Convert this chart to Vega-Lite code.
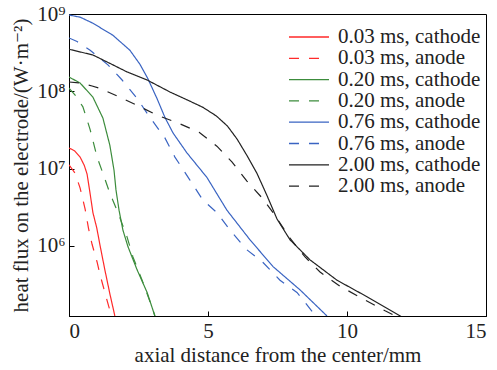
{
  "$schema": "https://vega.github.io/schema/vega-lite/v6.json",
  "width": 417,
  "height": 302,
  "autosize": {"type": "none"},
  "padding": {"left": 69, "top": 14, "right": 11, "bottom": 54},
  "background": "white",
  "data": {"values": [
    {"s": "0.03 ms, cathode", "x": 0, "y": 1.85e7},
    {"s": "0.03 ms, cathode", "x": 0.2, "y": 1.7e7},
    {"s": "0.03 ms, cathode", "x": 0.4, "y": 1.41e7},
    {"s": "0.03 ms, cathode", "x": 0.55, "y": 1.1e7},
    {"s": "0.03 ms, cathode", "x": 0.65, "y": 8.5e6},
    {"s": "0.03 ms, cathode", "x": 0.75, "y": 5.0e6},
    {"s": "0.03 ms, cathode", "x": 0.86, "y": 2.7e6},
    {"s": "0.03 ms, cathode", "x": 1.0, "y": 1.7e6},
    {"s": "0.03 ms, cathode", "x": 1.12, "y": 1.0e6},
    {"s": "0.03 ms, cathode", "x": 1.29, "y": 4.9e5},
    {"s": "0.03 ms, cathode", "x": 1.47, "y": 2.4e5},
    {"s": "0.03 ms, cathode", "x": 1.65, "y": 1.24e5},

    {"s": "0.03 ms, anode", "x": 0, "y": 1.12e7},
    {"s": "0.03 ms, anode", "x": 0.22, "y": 8.7e6},
    {"s": "0.03 ms, anode", "x": 0.4, "y": 5.6e6},
    {"s": "0.03 ms, anode", "x": 0.58, "y": 3.0e6},
    {"s": "0.03 ms, anode", "x": 0.7, "y": 1.7e6},
    {"s": "0.03 ms, anode", "x": 0.83, "y": 1.05e6},
    {"s": "0.03 ms, anode", "x": 1.01, "y": 6.2e5},
    {"s": "0.03 ms, anode", "x": 1.12, "y": 4.2e5},
    {"s": "0.03 ms, anode", "x": 1.29, "y": 2.5e5},
    {"s": "0.03 ms, anode", "x": 1.44, "y": 1.6e5},
    {"s": "0.03 ms, anode", "x": 1.53, "y": 1.24e5},

    {"s": "0.20 ms, cathode", "x": 0, "y": 1.53e8},
    {"s": "0.20 ms, cathode", "x": 0.4, "y": 1.28e8},
    {"s": "0.20 ms, cathode", "x": 0.86, "y": 8.4e7},
    {"s": "0.20 ms, cathode", "x": 1.22, "y": 4.5e7},
    {"s": "0.20 ms, cathode", "x": 1.47, "y": 2.0e7},
    {"s": "0.20 ms, cathode", "x": 1.62, "y": 9.5e6},
    {"s": "0.20 ms, cathode", "x": 1.69, "y": 5.3e6},
    {"s": "0.20 ms, cathode", "x": 1.8, "y": 2.9e6},
    {"s": "0.20 ms, cathode", "x": 1.94, "y": 1.6e6},
    {"s": "0.20 ms, cathode", "x": 2.12, "y": 9.8e5},
    {"s": "0.20 ms, cathode", "x": 2.45, "y": 4.9e5},
    {"s": "0.20 ms, cathode", "x": 2.81, "y": 2.5e5},
    {"s": "0.20 ms, cathode", "x": 3.09, "y": 1.24e5},

    {"s": "0.20 ms, anode", "x": 0, "y": 1.1e8},
    {"s": "0.20 ms, anode", "x": 0.22, "y": 8.95e7},
    {"s": "0.20 ms, anode", "x": 0.5, "y": 6.3e7},
    {"s": "0.20 ms, anode", "x": 0.76, "y": 3.2e7},
    {"s": "0.20 ms, anode", "x": 1.01, "y": 1.41e7},
    {"s": "0.20 ms, anode", "x": 1.22, "y": 8.7e6},
    {"s": "0.20 ms, anode", "x": 1.47, "y": 4.8e6},
    {"s": "0.20 ms, anode", "x": 1.76, "y": 2.7e6},
    {"s": "0.20 ms, anode", "x": 2.09, "y": 1.3e6},
    {"s": "0.20 ms, anode", "x": 2.3, "y": 7.2e5},
    {"s": "0.20 ms, anode", "x": 2.63, "y": 3.6e5},
    {"s": "0.20 ms, anode", "x": 2.99, "y": 1.6e5},
    {"s": "0.20 ms, anode", "x": 3.09, "y": 1.24e5},

    {"s": "0.76 ms, cathode", "x": 0, "y": 9.7e8},
    {"s": "0.76 ms, cathode", "x": 0.4, "y": 9.1e8},
    {"s": "0.76 ms, cathode", "x": 0.86, "y": 7.6e8},
    {"s": "0.76 ms, cathode", "x": 1.58, "y": 5.3e8},
    {"s": "0.76 ms, cathode", "x": 2.19, "y": 3.4e8},
    {"s": "0.76 ms, cathode", "x": 2.55, "y": 2.24e8},
    {"s": "0.76 ms, cathode", "x": 2.84, "y": 1.45e8},
    {"s": "0.76 ms, cathode", "x": 3.17, "y": 8.0e7},
    {"s": "0.76 ms, cathode", "x": 3.45, "y": 4.6e7},
    {"s": "0.76 ms, cathode", "x": 3.74, "y": 2.9e7},
    {"s": "0.76 ms, cathode", "x": 4.24, "y": 1.6e7},
    {"s": "0.76 ms, cathode", "x": 4.96, "y": 7.7e6},
    {"s": "0.76 ms, cathode", "x": 5.68, "y": 2.9e6},
    {"s": "0.76 ms, cathode", "x": 6.51, "y": 1.2e6},
    {"s": "0.76 ms, cathode", "x": 7.34, "y": 5.4e5},
    {"s": "0.76 ms, cathode", "x": 8.31, "y": 2.7e5},
    {"s": "0.76 ms, cathode", "x": 9.28, "y": 1.24e5},

    {"s": "0.76 ms, anode", "x": 0, "y": 4.9e8},
    {"s": "0.76 ms, anode", "x": 0.29, "y": 4.4e8},
    {"s": "0.76 ms, anode", "x": 0.76, "y": 3.4e8},
    {"s": "0.76 ms, anode", "x": 1.4, "y": 2.2e8},
    {"s": "0.76 ms, anode", "x": 1.91, "y": 1.4e8},
    {"s": "0.76 ms, anode", "x": 2.45, "y": 8.1e7},
    {"s": "0.76 ms, anode", "x": 2.91, "y": 4.6e7},
    {"s": "0.76 ms, anode", "x": 3.45, "y": 2.5e7},
    {"s": "0.76 ms, anode", "x": 3.81, "y": 1.41e7},
    {"s": "0.76 ms, anode", "x": 4.35, "y": 7.1e6},
    {"s": "0.76 ms, anode", "x": 4.82, "y": 3.9e6},
    {"s": "0.76 ms, anode", "x": 5.32, "y": 2.7e6},
    {"s": "0.76 ms, anode", "x": 5.79, "y": 1.6e6},
    {"s": "0.76 ms, anode", "x": 6.4, "y": 8.9e5},
    {"s": "0.76 ms, anode", "x": 6.98, "y": 6.1e5},
    {"s": "0.76 ms, anode", "x": 7.59, "y": 3.6e5},
    {"s": "0.76 ms, anode", "x": 8.2, "y": 2.5e5},
    {"s": "0.76 ms, anode", "x": 8.88, "y": 1.24e5},

    {"s": "2.00 ms, cathode", "x": 0, "y": 3.5e8},
    {"s": "2.00 ms, cathode", "x": 0.86, "y": 2.95e8},
    {"s": "2.00 ms, cathode", "x": 1.47, "y": 2.3e8},
    {"s": "2.00 ms, cathode", "x": 2.09, "y": 1.78e8},
    {"s": "2.00 ms, cathode", "x": 2.81, "y": 1.4e8},
    {"s": "2.00 ms, cathode", "x": 3.63, "y": 9.8e7},
    {"s": "2.00 ms, cathode", "x": 4.2, "y": 7.9e7},
    {"s": "2.00 ms, cathode", "x": 4.82, "y": 6.2e7},
    {"s": "2.00 ms, cathode", "x": 5.3, "y": 4.8e7},
    {"s": "2.00 ms, cathode", "x": 5.7, "y": 3.55e7},
    {"s": "2.00 ms, cathode", "x": 6.05, "y": 2.4e7},
    {"s": "2.00 ms, cathode", "x": 6.4, "y": 1.48e7},
    {"s": "2.00 ms, cathode", "x": 6.76, "y": 8.7e6},
    {"s": "2.00 ms, cathode", "x": 7.12, "y": 4.5e6},
    {"s": "2.00 ms, cathode", "x": 7.48, "y": 2.24e6},
    {"s": "2.00 ms, cathode", "x": 7.95, "y": 1.2e6},
    {"s": "2.00 ms, cathode", "x": 8.67, "y": 6.6e5},
    {"s": "2.00 ms, cathode", "x": 9.64, "y": 3.6e5},
    {"s": "2.00 ms, cathode", "x": 10.72, "y": 2.2e5},
    {"s": "2.00 ms, cathode", "x": 11.98, "y": 1.2e5},

    {"s": "2.00 ms, anode", "x": 0, "y": 1.32e8},
    {"s": "2.00 ms, anode", "x": 0.4, "y": 1.28e8},
    {"s": "2.00 ms, anode", "x": 0.83, "y": 1.17e8},
    {"s": "2.00 ms, anode", "x": 1.15, "y": 1.08e8},
    {"s": "2.00 ms, anode", "x": 1.73, "y": 8.7e7},
    {"s": "2.00 ms, anode", "x": 2.45, "y": 6.6e7},
    {"s": "2.00 ms, anode", "x": 3.17, "y": 4.9e7},
    {"s": "2.00 ms, anode", "x": 3.92, "y": 3.9e7},
    {"s": "2.00 ms, anode", "x": 4.68, "y": 2.95e7},
    {"s": "2.00 ms, anode", "x": 5.32, "y": 1.95e7},
    {"s": "2.00 ms, anode", "x": 5.86, "y": 1.22e7},
    {"s": "2.00 ms, anode", "x": 6.4, "y": 6.9e6},
    {"s": "2.00 ms, anode", "x": 6.94, "y": 4.2e6},
    {"s": "2.00 ms, anode", "x": 7.34, "y": 2.7e6},
    {"s": "2.00 ms, anode", "x": 7.95, "y": 1.26e6},
    {"s": "2.00 ms, anode", "x": 8.49, "y": 7.2e5},
    {"s": "2.00 ms, anode", "x": 9.03, "y": 4.6e5},
    {"s": "2.00 ms, anode", "x": 9.75, "y": 3.0e5},
    {"s": "2.00 ms, anode", "x": 10.65, "y": 2.0e5},
    {"s": "2.00 ms, anode", "x": 11.37, "y": 1.45e5},
    {"s": "2.00 ms, anode", "x": 11.83, "y": 1.2e5}
  ]},
  "mark": {"type": "line", "clip": true, "strokeWidth": 1.2},
  "encoding": {
    "x": {
      "field": "x", "type": "quantitative",
      "scale": {"domain": [0, 15], "nice": false},
      "axis": {"values": [0, 5, 10, 15], "title": "axial distance from the center/mm", "labelPadding": 9, "titlePadding": 3}
    },
    "y": {
      "field": "y", "type": "quantitative",
      "scale": {"type": "log", "domain": [124000, 1000000000], "nice": false},
      "axis": {
        "values": [1000000, 10000000, 100000000, 1000000000],
        "labelExpr": "'10' + substring('⁰¹²³⁴⁵⁶⁷⁸⁹', round(log(datum.value)/LN10), round(log(datum.value)/LN10) + 1)",
        "title": "heat flux on the electrode/(W·m⁻²)",
        "labelPadding": 9, "titlePadding": 5
      }
    },
    "color": {
      "field": "s", "type": "nominal",
      "scale": {
        "domain": ["0.03 ms, cathode", "0.03 ms, anode", "0.20 ms, cathode", "0.20 ms, anode", "0.76 ms, cathode", "0.76 ms, anode", "2.00 ms, cathode", "2.00 ms, anode"],
        "range": ["#ff2a2a", "#ff2a2a", "#3c8c3c", "#3c8c3c", "#3a64c2", "#3a64c2", "#222222", "#222222"]
      },
      "legend": {"title": null}
    },
    "strokeDash": {
      "field": "s", "type": "nominal",
      "scale": {
        "domain": ["0.03 ms, cathode", "0.03 ms, anode", "0.20 ms, cathode", "0.20 ms, anode", "0.76 ms, cathode", "0.76 ms, anode", "2.00 ms, cathode", "2.00 ms, anode"],
        "range": [[1, 0], [10, 10], [1, 0], [10, 10], [1, 0], [10, 10], [1, 0], [10, 10]]
      },
      "legend": {"title": null}
    }
  },
  "config": {
    "font": "Times New Roman, Liberation Serif, DejaVu Serif, serif",
    "view": {"stroke": "#000", "strokeWidth": 1},
    "axis": {
      "labelFont": "Times New Roman, Liberation Serif, DejaVu Serif, serif", "labelFontSize": 21, "labelColor": "#222",
      "titleFont": "Times New Roman, Liberation Serif, DejaVu Serif, serif", "titleFontSize": 21, "titleFontWeight": "normal", "titleColor": "#222",
      "domainColor": "#000", "tickColor": "#000", "grid": false, "tickSize": -5
    },
    "legend": {
      "orient": "none", "legendX": 229, "legendY": 12,
      "symbolType": "M-2,0H2", "symbolSize": 400, "symbolStrokeWidth": 1.3,
      "labelFont": "Times New Roman, Liberation Serif, DejaVu Serif, serif", "labelFontSize": 21, "labelColor": "#222",
      "labelOffset": 18, "rowPadding": 0.3, "labelLimit": 300
    }
  }
}
